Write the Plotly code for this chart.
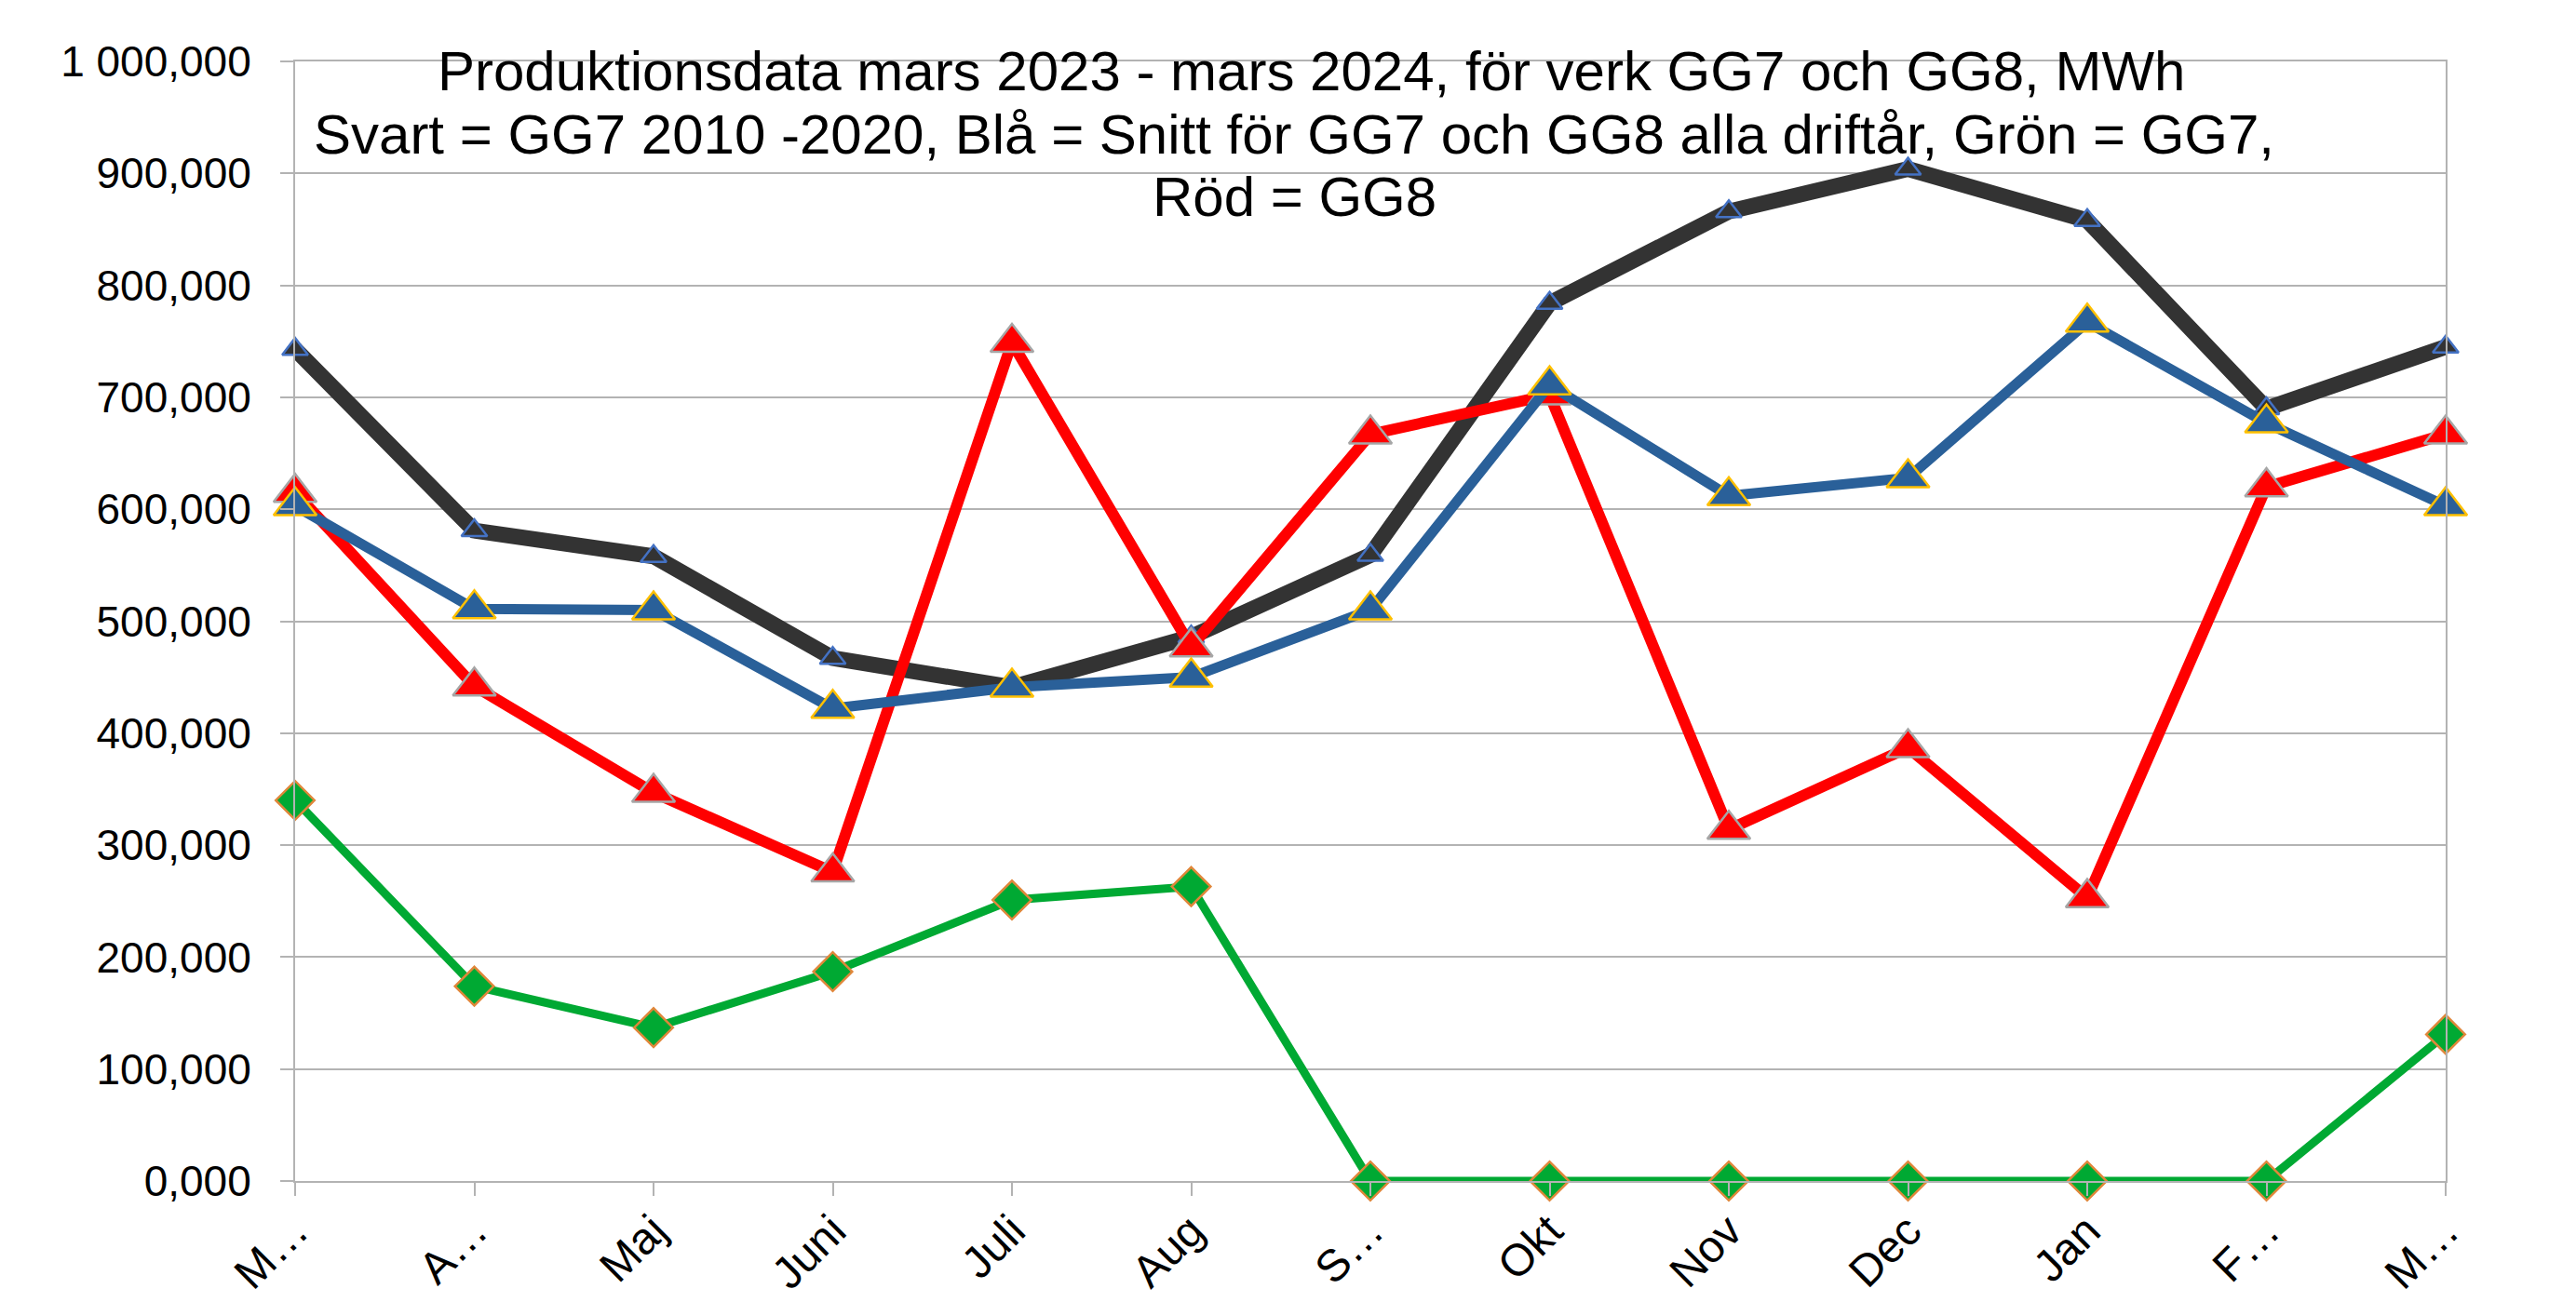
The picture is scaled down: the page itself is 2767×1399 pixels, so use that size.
import plotly.graph_objects as go

months = ["M…", "A…", "Maj", "Juni", "Juli", "Aug", "S…", "Okt", "Nov", "Dec", "Jan", "F…", "M…"]
gg7_2010_2020 = [743000, 581000, 558000, 467000, 441000, 486000, 559000, 784000, 866000, 904000, 858000, 690000, 745000]
snitt_gg7_gg8 = [603000, 511000, 510000, 422000, 441000, 450000, 510000, 711000, 612000, 628000, 767000, 677000, 603000]
gg8 = [615000, 442000, 347000, 276000, 749000, 477000, 667000, 702000, 314000, 387000, 253000, 620000, 667000]
gg7 = [340000, 174000, 137000, 187000, 251000, 263000, 0, 0, 0, 0, 0, 0, 131000]
y_ticks = [0, 100000, 200000, 300000, 400000, 500000, 600000, 700000, 800000, 900000, 1000000]
y_ticktext = ["0,000", "100,000", "200,000", "300,000", "400,000", "500,000", "600,000",
              "700,000", "800,000", "900,000", "1 000,000"]
title_lines = [
    "Produktionsdata mars 2023 - mars 2024, för verk GG7 och GG8, MWh",
    "Svart = GG7 2010 -2020, Blå = Snitt för GG7 och GG8 alla driftår, Grön = GG7,",
    "Röd = GG8",
]

x = list(range(len(months)))
FONT = "Liberation Sans, Arial, sans-serif"

W, H = 2767, 1399
L, R, T, B = 309, 148, 58, 130
PW, PH = W - L - R, H - T - B

fig = go.Figure()
fig.add_trace(go.Scatter(
    x=x, y=gg7_2010_2020, mode="lines+markers", name="GG7 2010-2020",
    line=dict(color="#333333", width=17),
    marker=dict(symbol="triangle-up", size=24, color="#333333",
                line=dict(color="#4472c4", width=2.5)),
    cliponaxis=False))
fig.add_trace(go.Scatter(
    x=x, y=gg8, mode="lines+markers", name="GG8",
    line=dict(color="#ff0000", width=12),
    marker=dict(symbol="triangle-up", size=40, color="#ff0000",
                line=dict(color="#a6a6a6", width=2.5)),
    cliponaxis=False))
fig.add_trace(go.Scatter(
    x=x, y=snitt_gg7_gg8, mode="lines+markers", name="Snitt",
    line=dict(color="#2a6099", width=11),
    marker=dict(symbol="triangle-up", size=40, color="#2a6099",
                line=dict(color="#ffc000", width=2.5)),
    cliponaxis=False))
fig.add_trace(go.Scatter(
    x=x, y=gg7, mode="lines+markers", name="GG7",
    line=dict(color="#00a933", width=9),
    marker=dict(symbol="diamond", size=32, color="#00a933",
                line=dict(color="#e0873a", width=2.5)),
    cliponaxis=False))

# title lines: (center x px, baseline y px)
title_pos = [(1400, 90), (1382, 158), (1382, 225)]
TFS = 60
annotations = []
for txt, (cx, base) in zip(title_lines, title_pos):
    annotations.append(dict(
        text=txt, showarrow=False, xref="paper", yref="paper",
        x=(cx - L) / PW, y=(H - B - (base - 0.35 * TFS)) / PH,
        xanchor="center", yanchor="middle",
        font=dict(family=FONT, size=TFS, color="black")))

fig.update_layout(
    width=W, height=H,
    paper_bgcolor="white", plot_bgcolor="white",
    showlegend=False,
    margin=dict(l=L, r=R, t=T, b=B),
    font=dict(family=FONT, color="black", size=44),
    annotations=annotations,
)
fig.update_xaxes(
    range=[0, len(months) - 1], tickmode="array", tickvals=x, ticktext=months,
    tickangle=-45, showgrid=False, zeroline=False,
    showline=True, linecolor="#b3b3b3", linewidth=2, mirror=True,
    ticks="outside", ticklen=14, tickwidth=2, tickcolor="#b3b3b3",
    ticklabelstandoff=-10,
    tickfont=dict(family=FONT, size=48, color="black"))
fig.update_yaxes(
    range=[0, 1000000], tickmode="array", tickvals=y_ticks, ticktext=y_ticktext,
    showgrid=True, gridcolor="#b3b3b3", gridwidth=2, zeroline=False,
    showline=True, linecolor="#b3b3b3", linewidth=2, mirror=True,
    ticks="outside", ticklen=14, tickwidth=2, tickcolor="#b3b3b3",
    ticklabelstandoff=22,
    tickfont=dict(family=FONT, size=46, color="black"))

fig.write_html("out.html")
